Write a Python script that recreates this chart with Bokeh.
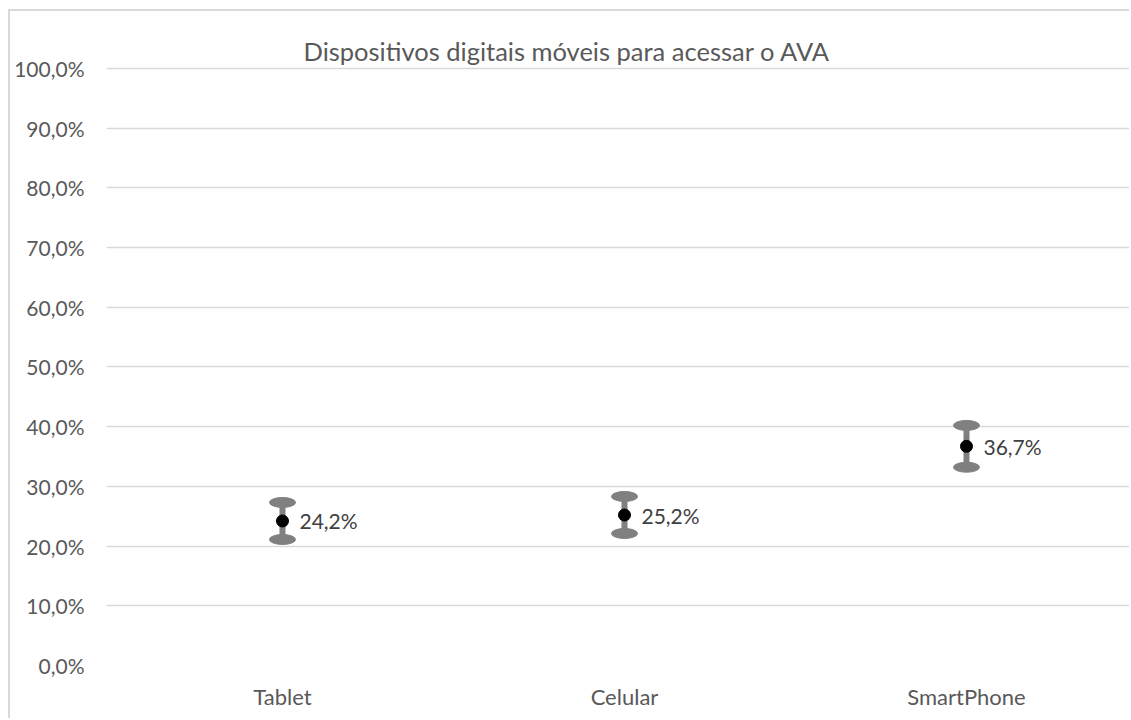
from bokeh.plotting import figure
from bokeh.models import Range1d, FixedTicker, Title
from bokeh.embed import file_html
from bokeh.resources import INLINE
from bokeh.core.properties import value

categories = ["Tablet", "Celular", "SmartPhone"]
means = [0.242, 0.252, 0.367]
lower = [0.211, 0.221, 0.332]
upper = [0.273, 0.283, 0.402]
value_labels = ["24,2%", "25,2%", "36,7%"]
y_ticks = [0.0, 0.1, 0.2, 0.3, 0.4, 0.5, 0.6, 0.7, 0.8, 0.9, 1.0]
y_tick_labels = ["0,0%", "10,0%", "20,0%", "30,0%", "40,0%", "50,0%",
                 "60,0%", "70,0%", "80,0%", "90,0%", "100,0%"]
title_text = "Dispositivos digitais móveis para acessar o AVA"

FONT = "Lato"
xs = list(range(len(categories)))

p = figure(width=1121, height=709, output_backend="svg", toolbar_location=None,
           x_range=Range1d(-0.5146, 2.4825), y_range=Range1d(0, 1.003),
           min_border_left=96, min_border_right=0, min_border_top=55,
           min_border_bottom=55, title=None)
p.outline_line_color = None
p.background_fill_color = "white"
p.border_fill_color = "white"
p.styles = {"border-left": "2px solid #d9d9d9", "border-top": "2px solid #d9d9d9",
            "margin-left": "8px", "margin-top": "9px"}

p.xgrid.grid_line_color = None
p.ygrid.grid_line_color = "#d9d9d9"
p.ygrid.grid_line_width = 1.5

p.yaxis.ticker = FixedTicker(ticks=y_ticks)
p.yaxis.major_label_overrides = {t: l for t, l in zip(y_ticks, y_tick_labels)}
p.xaxis.ticker = FixedTicker(ticks=xs)
p.xaxis.major_label_overrides = {i: c for i, c in enumerate(categories)}
for ax in (p.xaxis, p.yaxis):
    ax.axis_line_color = None
    ax.major_tick_line_color = None
    ax.minor_tick_line_color = None
    ax.major_tick_in = 0
    ax.major_tick_out = 0
    ax.minor_tick_in = 0
    ax.minor_tick_out = 0
    ax.major_label_text_font = FONT
    ax.major_label_text_color = "#595959"
p.yaxis.major_label_text_font_size = "21px"
p.xaxis.major_label_text_font_size = "22px"
p.yaxis.major_label_standoff = 22
p.xaxis.major_label_standoff = 17

p.segment(x0=xs, y0=lower, x1=xs, y1=upper, line_color="#808080", line_width=6)
p.ellipse(x=xs + xs, y=lower + upper, width=26, height=10,
          width_units="screen", height_units="screen",
          fill_color="#808080", line_color="#808080")
p.scatter(x=xs, y=means, size=12, marker="circle", fill_color="black", line_color="black")
p.text(x=xs, y=means, text=value_labels, x_offset=17, text_baseline="middle",
       text_font=value(FONT), text_font_size="21px", text_color="#404040")

p.add_layout(Title(text=title_text, align="left", offset=197, standoff=1,
                   text_font=FONT, text_font_size="25.5px", text_font_style="normal",
                   text_color="#595959"), "above")

open("out.html", "w").write(file_html(p, INLINE))
